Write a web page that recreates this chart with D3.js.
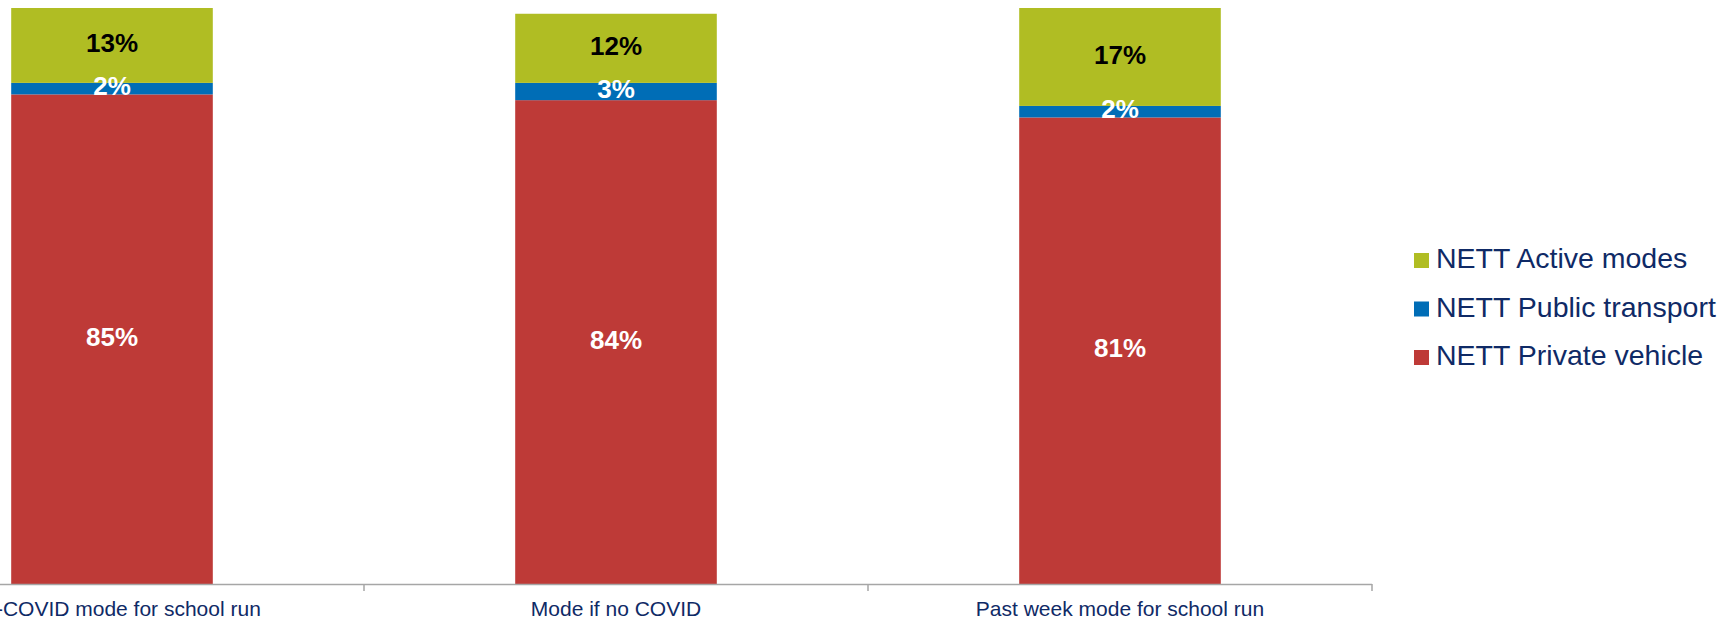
<!DOCTYPE html>
<html>
<head>
<meta charset="utf-8">
<script src="https://cdn.jsdelivr.net/npm/d3@7"></script>
<style>
  html, body { margin: 0; padding: 0; background: #ffffff; }
  svg { display: block; }
  text { font-family: "Liberation Sans", Arial, Helvetica, sans-serif; }
</style>
</head>
<body>
<svg id="chart" width="1728" height="619"></svg>
<script>
// Travel mode for the school run (share of respondents, %)
const categories = ["Pre-COVID mode for school run", "Mode if no COVID", "Past week mode for school run"];
const seriesNames = ["NETT Private vehicle", "NETT Public transport", "NETT Active modes"];
const privateVehicle = [85, 84, 81];
const publicTransport = [2, 3, 2];
const activeModes = [13, 12, 17];
const yMax = 100;

const colors = {
  "NETT Private vehicle": "#be3a37",
  "NETT Public transport": "#006db6",
  "NETT Active modes": "#b0bd23"
};
const labelColors = {
  "NETT Private vehicle": "#ffffff",
  "NETT Public transport": "#ffffff",
  "NETT Active modes": "#000000"
};

const rows = categories.map((c, i) => ({
  category: c,
  "NETT Private vehicle": privateVehicle[i],
  "NETT Public transport": publicTransport[i],
  "NETT Active modes": activeModes[i]
}));

const svg = d3.select("#chart");

// Plot area: the first category band starts left of the visible canvas
const x = d3.scaleBand()
  .domain(categories)
  .range([-140, 1372])
  .paddingInner(0.6)
  .paddingOuter(0.3);

const y = d3.scaleLinear().domain([0, yMax]).range([584, 8]);

const stacked = d3.stack().keys(seriesNames)(rows);

const layers = svg.append("g").attr("class", "bars")
  .selectAll("g")
  .data(stacked)
  .join("g")
  .attr("fill", d => colors[d.key]);

layers.selectAll("rect")
  .data(d => d.map(p => ({ key: d.key, p })))
  .join("rect")
  .attr("x", d => x(d.p.data.category))
  .attr("width", x.bandwidth())
  .attr("y", d => y(d.p[1]))
  .attr("height", d => y(d.p[0]) - y(d.p[1]));

// Value labels centred in each segment
const labelSize = 26;
const labels = svg.append("g").attr("class", "values");
stacked.forEach(layer => {
  labels.selectAll(null)
    .data(layer)
    .join("text")
    .attr("x", d => x(d.data.category) + x.bandwidth() / 2)
    .attr("y", d => (y(d[0]) + y(d[1])) / 2 + labelSize * 0.255)
    .attr("text-anchor", "middle")
    .attr("font-size", labelSize)
    .attr("font-weight", "bold")
    .attr("fill", labelColors[layer.key])
    .text(d => (d[1] - d[0]) + "%");
});

// Category axis: baseline with tick marks between the bands
const axis = svg.append("g").attr("class", "x-axis");
const step = x.step();
const [r0, r1] = x.range();
axis.append("line")
  .attr("x1", 0).attr("x2", r1)
  .attr("y1", y(0) + 0.5).attr("y2", y(0) + 0.5)
  .attr("stroke", "#a6a6a6").attr("stroke-width", 1.5);

const boundaries = [x(categories[0]) - x.paddingOuter() * step]
  .concat(categories.map(c => x(c) + x.bandwidth() / 2 + step / 2));
axis.selectAll("line.tick")
  .data(boundaries)
  .join("line")
  .attr("class", "tick")
  .attr("x1", d => d).attr("x2", d => d)
  .attr("y1", y(0)).attr("y2", y(0) + 7)
  .attr("stroke", "#a6a6a6").attr("stroke-width", 1.5);

axis.selectAll("text")
  .data(categories)
  .join("text")
  .attr("x", d => x(d) + x.bandwidth() / 2)
  .attr("y", 616)
  .attr("text-anchor", "middle")
  .attr("font-size", 21)
  .attr("fill", "#0f2a66")
  .text(d => d);

// Legend (top-down: active, public, private)
const legendItems = seriesNames.slice().reverse();
const legend = svg.append("g").attr("class", "legend");
const legendRow = legend.selectAll("g")
  .data(legendItems)
  .join("g")
  .attr("transform", (d, i) => `translate(1414, ${268 + i * 48.5})`);

legendRow.append("rect")
  .attr("x", 0).attr("y", -15)
  .attr("width", 15).attr("height", 15)
  .attr("fill", d => colors[d]);

legendRow.append("text")
  .attr("x", 22)
  .attr("y", 0)
  .attr("font-size", 28.5)
  .attr("fill", "#0f2a66")
  .text(d => d);
</script>
</body>
</html>
